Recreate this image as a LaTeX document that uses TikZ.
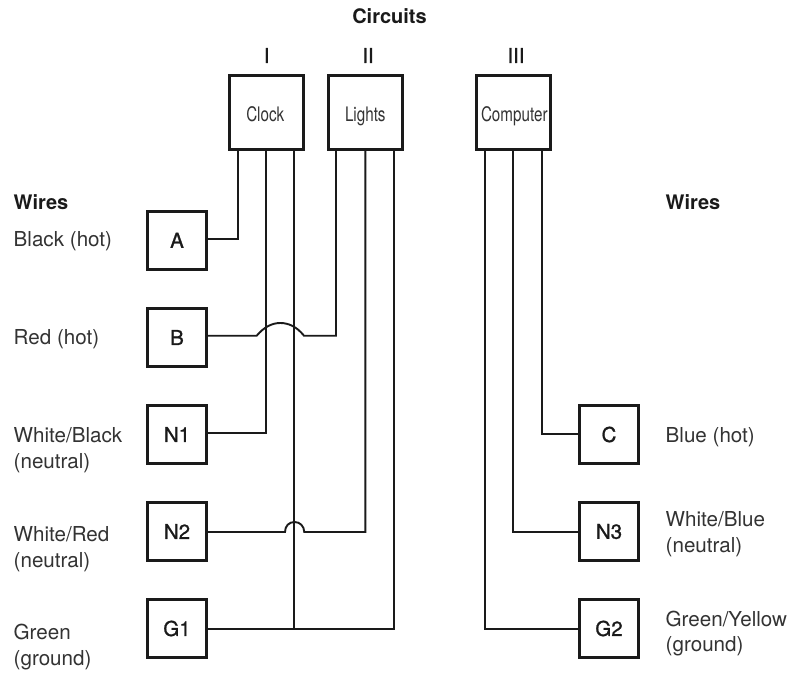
\documentclass[tikz,border=0pt]{standalone}
\usepackage{fontspec}
\setmainfont{TeX Gyre Heros}
\newfontfamily\medfont[FakeBold=1]{TeX Gyre Heros}
\definecolor{ink}{HTML}{1A1A1A}
\definecolor{soft}{HTML}{333333}
\tikzset{
  x=1pt,y=-1pt,
  wirebox/.style={draw=ink,line width=3pt,fill=white,inner sep=0pt,outer sep=0pt,anchor=center,text=ink,font=\medfont\fontsize{20.5}{20}\selectfont},
  loadbox/.style={wirebox,minimum width=74pt,minimum height=74pt},
  sidebox/.style={wirebox,minimum width=59.4pt,minimum height=58.4pt},
  wire/.style={draw=ink,line width=1.9pt,line join=miter},
  lab/.style={anchor=west,inner sep=0pt,align=left,text=soft,font=\fontsize{20.6}{25.5}\selectfont},
  head/.style={anchor=center,inner sep=0pt,text=ink,font=\bfseries\fontsize{20}{20}\selectfont},
  roman/.style={anchor=center,inner sep=0pt,text=ink,font=\medfont\fontsize{20.5}{20}\selectfont},
}
\newcommand{\narrowtxt}[1]{\raisebox{-9.2pt}[0pt][0pt]{\normalfont\color{soft}\scalebox{0.76}[1]{\fontsize{20}{20}\selectfont #1}}}
\begin{document}
\begin{tikzpicture}
\useasboundingbox (0,0) rectangle (787,672);
\fill[white] (0,0) rectangle (787,672);
% load boxes
\node[loadbox] (clock) at (266.3,112.3) {\hspace*{-2pt}\narrowtxt{Clock}};
\node[loadbox] (lights) at (365.3,112.3) {\narrowtxt{Lights}};
\node[loadbox] (computer) at (513.3,112.3) {\hspace*{2pt}\narrowtxt{Computer}};
% side boxes
\node[sidebox] (A) at (177,240.3) {\raisebox{-1pt}{A}};
\node[sidebox] (B) at (177,337.5) {B};
\node[sidebox] (N1) at (177,434.5) {N1};
\node[sidebox] (N2) at (177,531.5) {N2};
\node[sidebox] (G1) at (177,628.5) {G1};
\node[sidebox] (C) at (609,434.5) {C};
\node[sidebox] (N3) at (609,531.5) {N3};
\node[sidebox] (G2) at (609,628.5) {G2};
% wires
\draw[wire] ([yshift=1.6pt]A.east) -| ([xshift=-28.2pt]clock.south);
\draw[wire] (clock.south) |- ([yshift=1.5pt]N1.east);
\coordinate (gnd) at (294,629);
\draw[wire] ([xshift=27.7pt]clock.south) -- (gnd);
\coordinate (bL) at (256.7,335.7);
\coordinate (bR) at (304,335.7);
\draw[wire] ([yshift=1.8pt]B.east) -- (bL) .. controls (264,327) and (272,323) .. (280.3,323) .. controls (289,323) and (297,327) .. (bR) -- (336,335.7) -- ([xshift=-29.3pt]lights.south);
\coordinate (nL) at (285,532);
\coordinate (nR) at (304.3,532);
\draw[wire] (lights.south) -- (365.3,532) -- (nR) .. controls (304,526) and (300,522) .. (294.5,522) .. controls (289,522) and (285,526) .. (nL) -- ([yshift=-0.5pt]N2.east);
\draw[wire] ([yshift=-0.5pt]G1.east) -| ([xshift=28.7pt]lights.south);
\draw[wire] ([xshift=28.7pt]computer.south) |- ([yshift=0.5pt]C.west);
\draw[wire] (computer.south) |- ([yshift=-0.5pt]N3.west);
\draw[wire] ([xshift=-28.6pt]computer.south) |- ([yshift=-0.5pt]G2.west);
% top labels
\node[head] (title) at (389.5,16) {Circuits};
\node[roman] (t1) at (266.7,55.5) {I};
\node[roman] (t2) at (368,55.5) {II};
\node[roman] (t3) at (516,55.5) {III};
% left labels
\node[lab,font=\bfseries\fontsize{20}{20}\selectfont,text=ink] (wl) at (13.5,202) {Wires};
\node[lab] (l1) at (13.5,241) {Black (hot)};
\node[lab] (l2) at (13.5,339) {Red (hot)};
\node[lab] (l3) at (13.5,450) {White/Black\\(neutral)};
\node[lab] (l4) at (13.5,549) {White/Red\\(neutral)};
\node[lab] (l5) at (13.5,647) {Green\\(ground)};
% right labels
\node[lab,font=\bfseries\fontsize{20}{20}\selectfont,text=ink] (wr) at (665.5,202) {Wires};
\node[lab] (r1) at (665.5,437) {Blue (hot)};
\node[lab] (r2) at (665.5,534) {White/Blue\\(neutral)};
\node[lab] (r3) at (665.5,633.5) {Green/Yellow\\(ground)};
\end{tikzpicture}
\end{document}
